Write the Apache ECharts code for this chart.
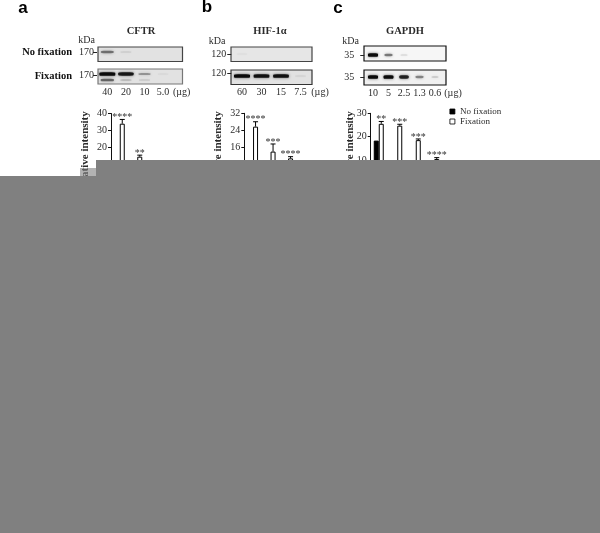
<!DOCTYPE html>
<html><head><meta charset="utf-8">
<style>html,body{margin:0;padding:0;background:#fff}#c{width:600px;height:533px;filter:blur(0.45px)}</style>
<script src="https://cdn.jsdelivr.net/npm/echarts@6/dist/echarts.min.js"></script>
</head><body><div id="c"></div>
<script>
// --- data ---
const laneA = ['40','20','10','5.0','(µg)'];
const laneB = ['60','30','15','7.5','(µg)'];
const laneC = ['10','5','2.5','1.3','0.6','\u00a0\u00a0(µg)'];
const kdaA = ['170','170'];
const kdaB = ['120','120'];
const kdaC = ['35','35'];
// blot band darkness, 0..1
const blotANoFix = [0.45,0.08,0,0];
const blotAFix = [1,0.9,0.3,0.04];
const blotASmear = [0.5,0.14,0.1,0];
const blotBNoFix = [0.03,0,0,0];
const blotBFix = [1,0.95,0.95,0.06];
const blotBSmear = [0,0,0,0];
const blotCNoFix = [1,0.45,0.1,0,0];
const blotCFix = [1,1,0.85,0.4,0.12];
const blotCSmear = [0,0,0,0,0];
// bars; null = hidden in the picture
const barLanesA = ['40','20','10','5.0'];
const barLanesB = ['60','30','15','7.5'];
const barLanesC = ['10','5','2.5','1.3','0.6'];
const barANoFix = [null,null,null,null];
const barAFix = [34,14.6,null,null];
const barAErr = [36.5,15.5,null,null];
const barAStars = ['****','**','',''];
const barBNoFix = [null,null,null,null];
const barBFix = [25.7,13.9,10.7,null];
const barBErr = [28,17.5,11.5,null];
const barBStars = ['****','***','****',''];
const barCNoFix = [18.3,null,null,null,null];
const barCFix = [25.5,24.7,18.5,10.4,null];
const barCErr = [26.5,25.3,19,11,null];
const barCStars = ['**','***','***','****',''];

const serif = '"Liberation Serif","Times New Roman",serif';
const ink = '#2b2b2b';
const BARW = 5;

const blots = [
 {left:98, w:93, top:40.5, h:46, lanes:laneA, kda:kdaA, no:blotANoFix, fix:blotAFix, smear:blotASmear, bw:16, off:[0,-1], margin:1, kdaMargin:3},
 {left:232.25, w:97.5, top:44.5, h:38, lanes:laneB, kda:kdaB, no:blotBNoFix, fix:blotBFix, smear:blotBSmear, bw:16, off:[0,3], margin:5, kdaMargin:5},
 {left:365.25, w:93, top:44, h:44, lanes:laneC, kda:kdaC, no:blotCNoFix, fix:blotCFix, smear:blotCSmear, bw:10, off:[0,0], margin:0, kdaMargin:10}
];
const charts = [
 {left:111, w:70, top:113.5, h:68, max:40, step:10, lanes:barLanesA, no:barANoFix, fix:barAFix, err:barAErr, stars:barAStars, shift:0},
 {left:244.3, w:70, top:113.3, h:67.7, max:32, step:8, lanes:barLanesB, no:barBNoFix, fix:barBFix, err:barBErr, stars:barBStars, shift:0},
 {left:369.5, w:92.5, top:113.3, h:70, max:30, step:10, lanes:barLanesC, no:barCNoFix, fix:barCFix, err:barCErr, stars:barCStars, shift:-1.2}
];

const grid=[], xAxis=[], yAxis=[], series=[];
blots.forEach((b,i)=>{
  grid.push({left:b.left, width:b.w, top:b.top, height:b.h, show:false});
  xAxis.push({type:'category', gridIndex:i, data:b.lanes, axisLine:{show:false}, axisTick:{show:false},
    axisLabel:{interval:0, margin:b.margin, fontFamily:serif, fontSize:10, color:ink, hideOverlap:false}});
  yAxis.push({type:'category', gridIndex:i, inverse:true, data:b.kda, offset:1,
    axisLine:{show:false}, axisTick:{show:true, length:4, alignWithLabel:true, lineStyle:{color:'#222',width:1}},
    axisLabel:{interval:0, margin:b.kdaMargin, fontFamily:serif, fontSize:10, color:ink}});
  const bandSeries=(vals,row,offs)=>({
    type:'scatter', xAxisIndex:i, yAxisIndex:i, symbol:'roundRect', silent:true, z:3,
    data:vals.map((v,k)=>v>0?{value:[k,row], itemStyle:{opacity:v}, symbolSize:[b.bw*(0.65+0.35*v), 1.5+2.2*v]}:null).filter(Boolean),
    symbolOffset:offs,
    itemStyle:{color:'#0a0a0a', shadowBlur:3, shadowColor:'rgba(0,0,0,0.6)'}
  });
  series.push(bandSeries(b.no,0,[0,0]));
  series.push(bandSeries(b.fix,1,b.off));
  series.push(bandSeries(b.smear,1,[0,5]));
});
charts.forEach((c,j)=>{
  const g=3+j;
  grid.push({left:c.left, width:c.w, top:c.top, height:c.h, show:false});
  xAxis.push({type:'category', gridIndex:g, data:c.lanes, axisLabel:{show:false}, axisTick:{show:false},
    axisLine:{show:true, lineStyle:{color:'#111',width:1}}});
  yAxis.push({type:'value', gridIndex:g, min:0, max:c.max, interval:c.step, offset:c.shift, splitLine:{show:false},
    axisLine:{show:true, lineStyle:{color:'#111',width:1}}, axisTick:{show:true, length:3, lineStyle:{color:'#111',width:1}},
    axisLabel:{margin:4, fontFamily:serif, fontSize:10, color:ink}});
  series.push({type:'bar', name:'No fixation', xAxisIndex:g, yAxisIndex:g, data:c.no, barWidth:BARW, barGap:'0%', silent:true,
    itemStyle:{color:'#000', borderColor:'#000', borderWidth:1}});
  series.push({type:'bar', name:'Fixation', xAxisIndex:g, yAxisIndex:g, data:c.fix, barWidth:BARW, silent:true,
    itemStyle:{color:'#fff', borderColor:'#000', borderWidth:1}});
  series.push({type:'custom', xAxisIndex:g, yAxisIndex:g, silent:true, z:4,
    data:c.err.map((e,k)=>[k,c.fix[k],e,c.stars[k]]).filter(d=>d[2]!=null),
    encode:{x:0,y:2},
    renderItem:(p,api)=>{
      const lane=api.value(0);
      const base=api.coord([lane,api.value(1)]);
      const tip=api.coord([lane,api.value(2)]);
      const x=base[0]+BARW/2, cap=BARW/2;
      const line=(x1,y1,x2,y2)=>({type:'line',shape:{x1,y1,x2,y2},style:{stroke:'#000',lineWidth:1}});
      return {type:'group',children:[
        line(x,base[1],x,tip[1]), line(x-cap,tip[1],x+cap,tip[1]),
        {type:'text',style:{text:c.stars[lane],x:x,y:tip[1]-2,align:'center',verticalAlign:'middle',
          font:'10px '+serif,fill:'#333'}}
      ]};
    }});
});

const txt=(text,x,y,o={})=>({type:'text',x,y,z:o.z||5,rotation:o.rot||0,
  style:{text,align:o.align||'center',verticalAlign:'middle',fill:o.fill||ink,
  font:(o.bold?'bold ':'')+(o.size||10)+'px '+(o.family||serif)}});
const box=(x,y,w,h,fill,stroke)=>({type:'rect',z:0,shape:{x,y,width:w,height:h},style:{fill,stroke,lineWidth:1.2}});
const cover=(x,y,w,h,fill)=>({type:'rect',z:1000,shape:{x,y,width:w,height:h},style:{fill}});

const elements=[
  box(98,47,84.5,14.5,'#e2e2e2','#444'), box(98,69,84.5,15,'#e2e2e2','#777'),
  box(231,47,81,14.5,'#e6e6e6','#444'), box(231,70,81,14.5,'#e2e2e2','#333'),
  box(364,46,82,15,'#f6f6f6','#111'), box(364,70,82,15,'#f0f0f0','#111'),
  txt('a',23,8,{bold:true,size:17,family:'"Liberation Sans",Arial,sans-serif',fill:'#000'}),
  txt('b',207,7,{bold:true,size:17,family:'"Liberation Sans",Arial,sans-serif',fill:'#000'}),
  txt('c',338,8,{bold:true,size:17,family:'"Liberation Sans",Arial,sans-serif',fill:'#000'}),
  txt('CFTR',141,31,{bold:true,size:10.5}),
  txt('HIF-1α',270,31,{bold:true,size:10.5}),
  txt('GAPDH',405,31,{bold:true,size:10.5}),
  txt('kDa',86.5,40,{size:10}), txt('kDa',217,41,{size:10}), txt('kDa',350.5,41,{size:10}),
  txt('No fixation',72,52,{bold:true,size:10.5,align:'right',fill:'#111'}),
  txt('Fixation',72,76.5,{bold:true,size:10.5,align:'right',fill:'#111'}),
  txt('Relative intensity',85,152,{bold:true,size:11,rot:Math.PI/2}),
  txt('Relative intensity',218,152,{bold:true,size:11,rot:Math.PI/2}),
  txt('Relative intensity',350,152,{bold:true,size:11,rot:Math.PI/2}),
  cover(0,176,600,357,'#808080'),
  cover(96,160,504,20,'#808080'),
  cover(80,168,16,8,'rgba(128,128,128,0.6)')
];

const chart=echarts.init(document.getElementById('c'),null,{renderer:'canvas'});
chart.setOption({
  animation:false, backgroundColor:'#fff',
  grid, xAxis, yAxis, series,
  legend:{data:['No fixation','Fixation'], orient:'vertical', left:449.5, top:106.5, padding:0, itemWidth:5, itemHeight:5, itemGap:0,
    selectedMode:false, icon:'rect', itemStyle:{borderWidth:0.8},
    textStyle:{fontFamily:serif,fontSize:9,lineHeight:10,color:ink,padding:[0,0,0,0]}},
  graphic:{elements}
});
</script></body></html>
